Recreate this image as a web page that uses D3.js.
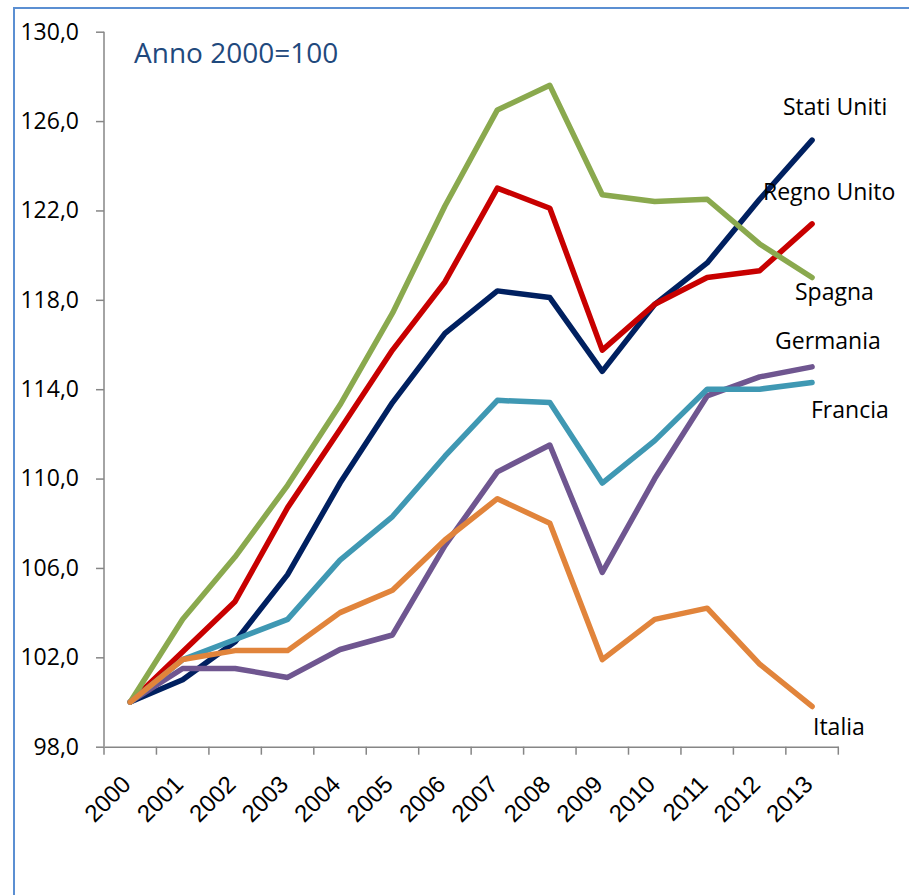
<!DOCTYPE html>
<html>
<head>
<meta charset="utf-8">
<script src="https://cdn.jsdelivr.net/npm/d3@7"></script>
<style>
  body { margin: 0; background: #fff; }
  svg { display: block; font-family: "Open Sans", sans-serif; }
</style>
</head>
<body>
<svg id="chart" width="909" height="895"></svg>
<script>
// values, base year 2000 = 100
var years = ["2000", "2001", "2002", "2003", "2004", "2005", "2006",
             "2007", "2008", "2009", "2010", "2011", "2012", "2013"];
var yTicks = [98, 102, 106, 110, 114, 118, 122, 126, 130];

var statiUniti = [100, 101.0, 102.7, 105.7, 109.8, 113.4, 116.5, 118.4, 118.1, 114.8, 117.8, 119.65, 122.5, 125.15];
var germania   = [100, 101.5, 101.5, 101.1, 102.35, 103.0, 107.0, 110.3, 111.5, 105.8, 110.0, 113.7, 114.55, 115.0];
var regnoUnito = [100, 102.25, 104.5, 108.7, 112.2, 115.75, 118.8, 123.0, 122.1, 115.75, 117.8, 119.0, 119.3, 121.4];
var spagna     = [100, 103.7, 106.5, 109.7, 113.3, 117.4, 122.2, 126.5, 127.6, 122.7, 122.4, 122.5, 120.5, 119.0];
var francia    = [100, 101.9, 102.8, 103.7, 106.35, 108.3, 111.0, 113.5, 113.4, 109.8, 111.7, 114.0, 114.0, 114.3];
var italia     = [100, 101.9, 102.3, 102.3, 104.0, 105.0, 107.25, 109.1, 108.0, 101.9, 103.7, 104.2, 101.7, 99.8];

var series = [
  { name: "Stati Uniti", values: statiUniti, color: "#002060", lx: 783, ly: 115 },
  { name: "Germania",    values: germania,   color: "#6f5690", lx: 775, ly: 349 },
  { name: "Regno Unito", values: regnoUnito, color: "#c80000", lx: 763, ly: 200 },
  { name: "Spagna",      values: spagna,     color: "#8aa94e", lx: 795, ly: 300 },
  { name: "Francia",     values: francia,    color: "#3f98b3", lx: 811, ly: 418 },
  { name: "Italia",      values: italia,     color: "#e1843b", lx: 813, ly: 735 }
];

var svg = d3.select("#chart");

// outer frame (right and bottom edges run off the picture)
svg.append("rect")
  .attr("x", 14).attr("y", 8)
  .attr("width", 1000).attr("height", 1000)
  .attr("fill", "none")
  .attr("stroke", "#5b8fd2")
  .attr("stroke-width", 2);

var x = d3.scaleBand()
  .domain(years)
  .range([104, 838.3]);

var y = d3.scaleLinear()
  .domain([98, 130])
  .range([746.7, 31.7]);

var axisColor = "#868686";

var yAxis = svg.append("g")
  .attr("transform", "translate(104,0)")
  .call(d3.axisLeft(y)
    .tickValues(yTicks)
    .tickSize(8)
    .tickPadding(17)
    .tickFormat(function(d) { return d3.format(".1f")(d).replace(".", ","); }));

var xAxis = svg.append("g")
  .attr("transform", "translate(0,746.7)")
  .call(d3.axisBottom(x)
    .tickSize(0)
    .tickFormat(""));

// Excel-style ticks between categories
xAxis.selectAll(".sep")
  .data(d3.range(years.length + 1))
  .enter().append("line")
  .attr("class", "sep")
  .attr("x1", function(i) { return 104 + i * x.step(); })
  .attr("x2", function(i) { return 104 + i * x.step(); })
  .attr("y1", 0).attr("y2", 8)
  .attr("stroke", axisColor)
  .attr("stroke-width", 1.5);

xAxis.selectAll(".yr")
  .data(years)
  .enter().append("text")
  .attr("class", "yr")
  .attr("transform", function(d) {
    return "translate(" + (x(d) + x.bandwidth() / 2 + 2) + ",39) rotate(-45)";
  })
  .attr("text-anchor", "end")
  .attr("fill", "#000")
  .attr("font-size", 24)
  .text(function(d) { return d; });

[yAxis, xAxis].forEach(function(g) {
  g.select(".domain").attr("stroke", axisColor).attr("stroke-width", 1.5);
  g.selectAll(".tick line").attr("stroke", axisColor).attr("stroke-width", 1.5);
});
yAxis.selectAll(".tick text")
  .attr("fill", "#000")
  .attr("font-size", 23)
  .attr("font-family", "Open Sans, sans-serif");
yAxis.select(".domain").attr("d", "M0,746.7V31.7");

var line = d3.line()
  .x(function(d, i) { return x(years[i]) + x.bandwidth() / 2; })
  .y(function(d) { return y(d); });

svg.append("g")
  .selectAll("path")
  .data(series)
  .enter().append("path")
  .attr("d", function(s) { return line(s.values); })
  .attr("fill", "none")
  .attr("stroke", function(s) { return s.color; })
  .attr("stroke-width", 5.5)
  .attr("stroke-linejoin", "round")
  .attr("stroke-linecap", "round");

svg.append("g")
  .selectAll("text")
  .data(series)
  .enter().append("text")
  .attr("x", function(s) { return s.lx; })
  .attr("y", function(s) { return s.ly; })
  .attr("font-size", 23)
  .attr("fill", "#000")
  .text(function(s) { return s.name; });

svg.append("text")
  .attr("x", 134).attr("y", 63)
  .attr("font-size", 28)
  .attr("fill", "#1f497d")
  .text("Anno 2000=100");
</script>
</body>
</html>
